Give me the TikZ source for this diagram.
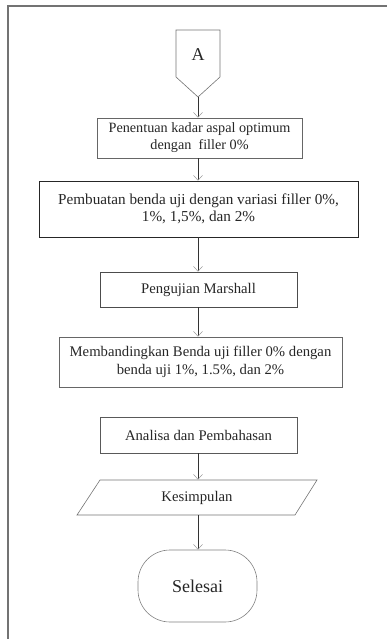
\documentclass[tikz,border=0pt]{standalone}
\usepackage{fontspec}
\setmainfont{Liberation Serif}
\usetikzlibrary{arrows.meta}
\begin{document}
\begin{tikzpicture}[x=1pt,y=-1pt,
  box/.style={draw=black!60,line width=0.6pt,rectangle,align=center,inner sep=0pt,
     font=\fontsize{14.7}{17.5}\selectfont,text=black!85},
  conn/.style={draw=black!80,line width=0.6pt,
     -{Straight Barb[length=5pt,width=9pt,color=black!40,line width=0.5pt]}},
  frameline/.style={draw=black!55,line width=1.3pt}]
\useasboundingbox (0,0) rectangle (387,639);
% frame (top and left edges only)
\draw[frameline] (387,6) -- (8,6) -- (8,639);
% off-page connector A
\draw[draw=black!55,line width=0.6pt] (176,30) -- (220,30) -- (220,77) -- (198,97) -- (176,77) -- cycle;
\node[font=\fontsize{18}{20}\selectfont,text=black!85] (A) at (198,55) {A};
\coordinate (At) at (198,97);
\node[box,minimum width=205,minimum height=40,font=\fontsize{14.2}{17}\selectfont] (b1) at (199.5,138)
  {Penentuan kadar aspal optimum\\dengan\ \ filler 0\%};
\node[box,draw=black!85,minimum width=319,minimum height=56,font=\fontsize{15.2}{17}\selectfont] (b2) at (198.5,209)
  {Pembuatan benda uji dengan variasi filler 0\%,\\1\%, 1,5\%, dan 2\%};
\node[box,draw=black!70,minimum width=197,minimum height=35] (b3) at (198.5,289.5)
  {Pengujian Marshall};
\node[box,draw=black!60,minimum width=283,minimum height=50] (b4) at (200.5,362)
  {Membandingkan Benda uji filler 0\% dengan\\benda uji 1\%, 1.5\%, dan 2\%};
\node[box,draw=black!65,minimum width=197,minimum height=36] (b5) at (198.5,435)
  {Analisa dan Pembahasan};
% parallelogram
\draw[draw=black!55,line width=0.6pt] (100,480) -- (317,480) -- (295,515) -- (77,515) -- cycle;
\node[box,draw=none,minimum width=218,minimum height=35] (p) at (197,497.5) {Kesimpulan};
% terminal
\node[box,draw=black!50,rounded corners=32,minimum width=119,minimum height=72,
  font=\fontsize{18}{20}\selectfont] (end) at (197.5,586) {Selesai};
% connectors
\draw[conn] (At) -- (At |- b1.north);
\draw[conn] (At |- b1.south) -- (At |- b2.north);
\draw[conn] (At |- b2.south) -- (At |- b3.north);
\draw[conn] (At |- b3.south) -- (At |- b4.north);
\coordinate (h) at (198,410);
\draw[-{Straight Barb[length=5pt,width=9pt,color=black!30,line width=0.5pt]},draw=none] (h) -- (At |- b5.north);
\draw[conn] (At |- b5.south) -- (At |- p.north);
\draw[conn] (At |- p.south) -- (At |- end.north);
\end{tikzpicture}
\end{document}
